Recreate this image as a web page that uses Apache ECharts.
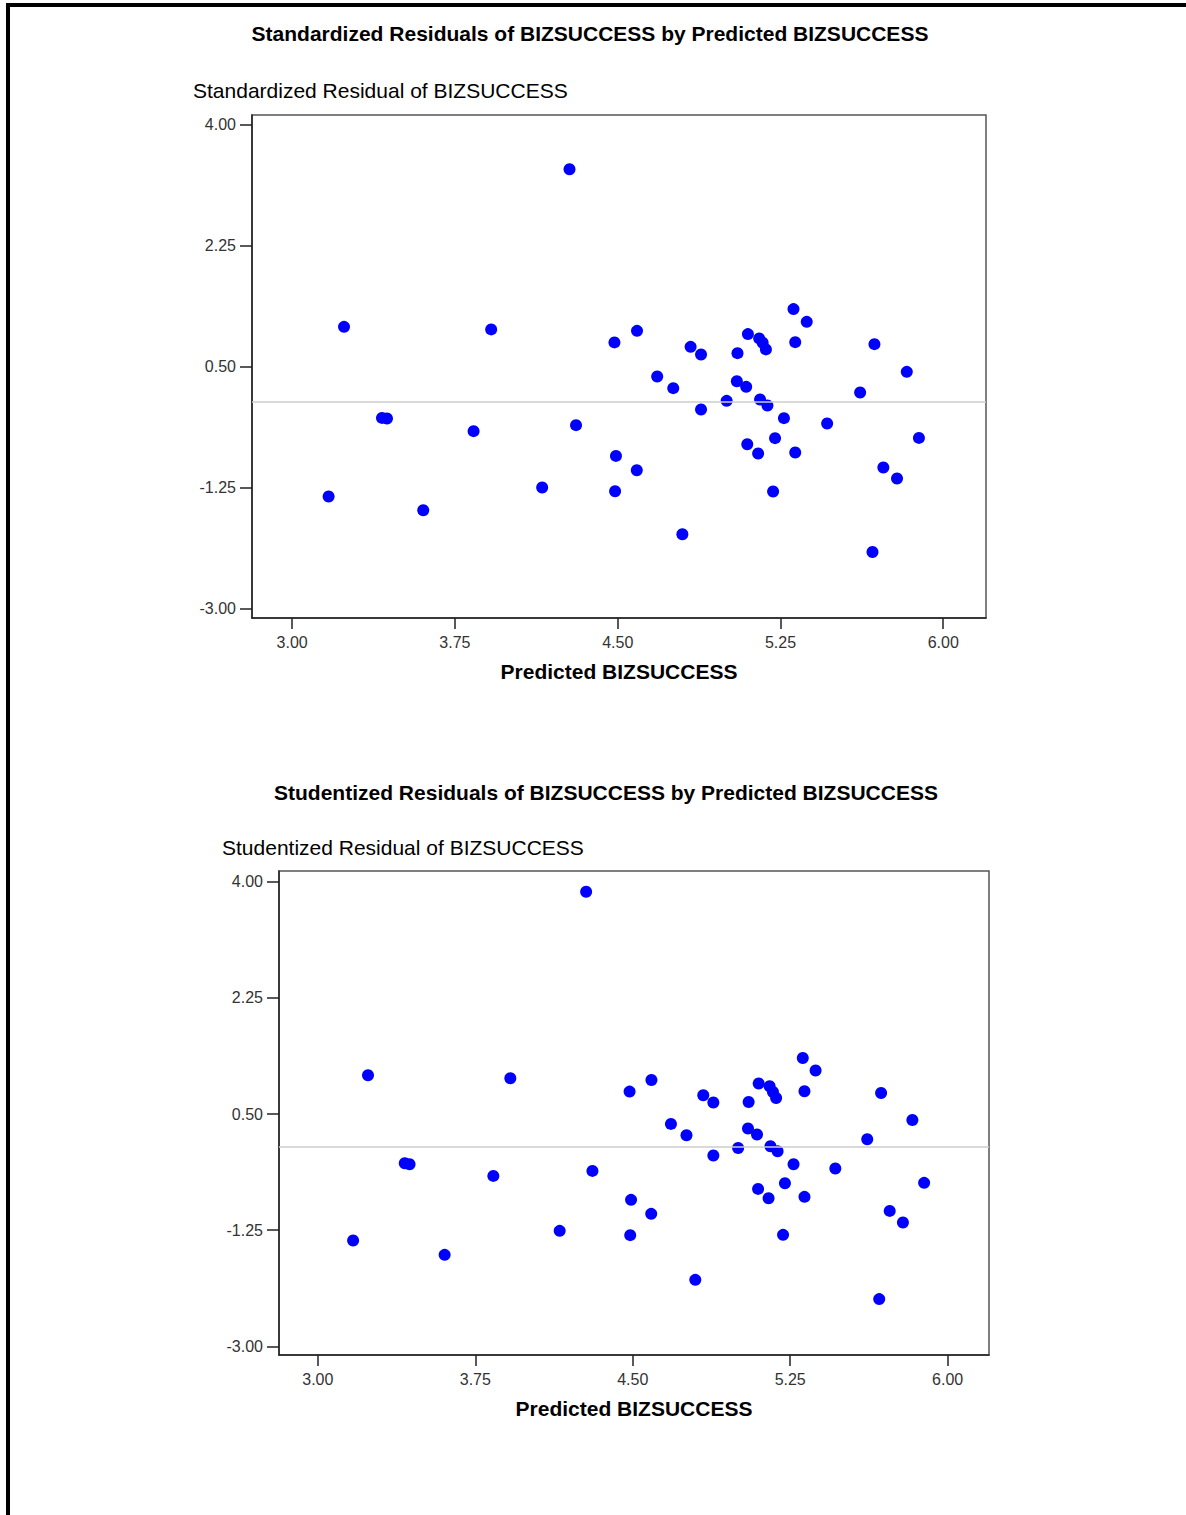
<!DOCTYPE html>
<html>
<head>
<meta charset="utf-8">
<script src="https://cdn.jsdelivr.net/npm/echarts@6/dist/echarts.min.js"></script>
<style>
html,body{margin:0;padding:0;background:#fff;}
#c{width:1186px;height:1515px;}
</style>
</head>
<body>
<div id="c"></div>
<script>
// Predicted BIZSUCCESS (shared x values)
const predicted = [3.168,3.239,3.414,3.437,3.604,3.836,3.917,4.152,4.278,4.308,
  4.485,4.492,4.488,4.589,4.588,4.682,4.756,4.798,4.836,4.884,
  4.884,5.002,5.052,5.049,5.092,5.097,5.100,5.147,5.152,5.168,
  5.183,5.156,5.190,5.216,5.225,5.266,5.310,5.318,5.318,5.371,
  5.465,5.617,5.674,5.683,5.724,5.787,5.832,5.888];
// Standardized residuals
const standardized = [-1.376,1.075,-0.240,-0.249,-1.574,-0.432,1.038,-1.246,3.350,-0.345,
  0.850,-0.789,-1.299,1.017,-0.996,0.358,0.189,-1.921,0.786,0.676,
  -0.118,0.006,0.695,0.290,0.208,-0.620,0.970,-0.754,0.908,0.844,
  0.749,0.026,-0.061,-1.303,-0.533,-0.244,1.331,0.854,-0.740,1.147,
  -0.321,0.127,-2.176,0.825,-0.957,-1.116,0.425,-0.529];
// Studentized residuals
const studentized = [-1.405,1.084,-0.241,-0.256,-1.621,-0.432,1.039,-1.260,3.849,-0.357,
  0.838,-0.793,-1.325,1.013,-1.004,0.351,0.181,-1.998,0.783,0.673,
  -0.125,-0.011,0.682,0.282,0.191,-0.628,0.959,-0.768,0.918,0.832,
  0.742,0.015,-0.060,-1.320,-0.542,-0.256,1.344,0.843,-0.748,1.155,
  -0.321,0.120,-2.288,0.817,-0.959,-1.134,0.411,-0.537];
const xTicks = [3.00, 3.75, 4.50, 5.25, 6.00];
const yTicks = [-3.00, -1.25, 0.50, 2.25, 4.00];
const titles = ['Standardized Residuals of BIZSUCCESS by Predicted BIZSUCCESS',
                'Studentized Residuals of BIZSUCCESS by Predicted BIZSUCCESS'];
const yNames = ['Standardized Residual of BIZSUCCESS', 'Studentized Residual of BIZSUCCESS'];
const xName = 'Predicted BIZSUCCESS';

const FONT = '"Liberation Sans", Arial, sans-serif';
const chart = echarts.init(document.getElementById('c'), null, {renderer: 'svg'});

function xAxisCfg(gi) {
  return {
    gridIndex: gi, type: 'value', min: 2.815, max: 6.197,
    name: xName, nameLocation: 'middle', nameGap: 43,
    nameTextStyle: {fontFamily: FONT, fontSize: 21, fontWeight: 'bold', color: '#000'},
    axisLine: {show: true, onZero: false, lineStyle: {color: '#222', width: 1.5}},
    axisTick: {show: true, inside: false, length: 11, customValues: xTicks, lineStyle: {color: '#222', width: 1.5}},
    axisLabel: {show: true, customValues: xTicks, margin: 16, fontFamily: FONT, fontSize: 16, color: '#333',
      formatter: v => v.toFixed(2)},
    splitLine: {show: false}
  };
}
function yAxisCfg(gi, max) {
  return {
    gridIndex: gi, type: 'value', min: -3.13, max: max,
    axisLine: {show: true, onZero: false, lineStyle: {color: '#222', width: 1.5}},
    axisTick: {show: true, inside: false, length: 12, customValues: yTicks, lineStyle: {color: '#222', width: 1.5}},
    axisLabel: {show: true, customValues: yTicks, margin: 16, fontFamily: FONT, fontSize: 16, color: '#333',
      formatter: v => v.toFixed(2)},
    splitLine: {show: false}
  };
}
function seriesCfg(gi, ys) {
  return {
    type: 'scatter', xAxisIndex: gi, yAxisIndex: gi,
    data: predicted.map((x, i) => [x, ys[i]]),
    symbol: 'circle', symbolSize: 12,
    itemStyle: {color: '#0000ff', opacity: 1},
    silent: true,
    markLine: {
      silent: true, symbol: 'none', label: {show: false},
      lineStyle: {color: '#cccccc', width: 1.5, type: 'solid'},
      data: [{yAxis: 0}]
    }
  };
}

chart.setOption({
  animation: false,
  backgroundColor: '#fff',
  title: [
    {text: titles[0], left: 590, top: 23, textAlign: 'center', padding: 0,
     textStyle: {fontFamily: FONT, fontSize: 21, fontWeight: 'bold', color: '#000'}},
    {text: yNames[0], left: 193, top: 80, padding: 0,
     textStyle: {fontFamily: FONT, fontSize: 21, fontWeight: 'normal', color: '#000'}},
    {text: titles[1], left: 606, top: 782, textAlign: 'center', padding: 0,
     textStyle: {fontFamily: FONT, fontSize: 21, fontWeight: 'bold', color: '#000'}},
    {text: yNames[1], left: 222, top: 837, padding: 0,
     textStyle: {fontFamily: FONT, fontSize: 21, fontWeight: 'normal', color: '#000'}}
  ],
  grid: [
    {left: 252, top: 115, width: 734, height: 503, show: true, borderColor: '#555', borderWidth: 1.5, backgroundColor: '#fff'},
    {left: 279, top: 871, width: 710, height: 484, show: true, borderColor: '#555', borderWidth: 1.5, backgroundColor: '#fff'}
  ],
  xAxis: [xAxisCfg(0), xAxisCfg(1)],
  yAxis: [yAxisCfg(0, 4.134), yAxisCfg(1, 4.161)],
  series: [seriesCfg(0, standardized), seriesCfg(1, studentized)],
  graphic: [
    {type: 'rect', shape: {x: 6, y: 3, width: 1180, height: 4}, style: {fill: '#000'}, silent: true},
    {type: 'rect', shape: {x: 6, y: 3, width: 4, height: 1512}, style: {fill: '#000'}, silent: true}
  ]
});
</script>
</body>
</html>
